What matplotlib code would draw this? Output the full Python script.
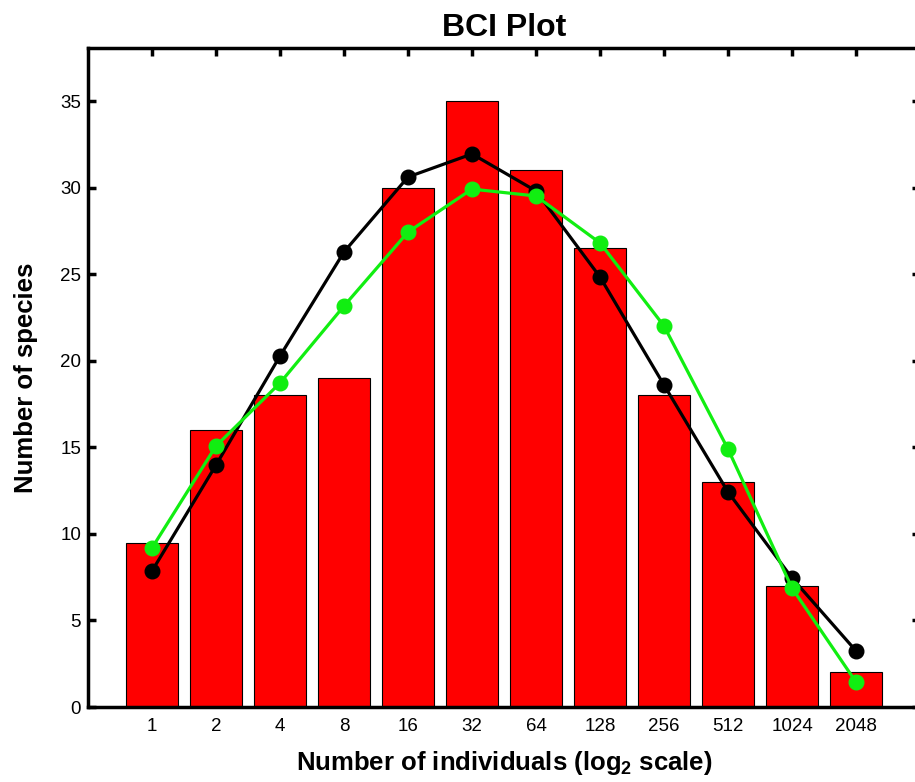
import matplotlib
matplotlib.use("Agg")
import matplotlib.pyplot as plt
import numpy as np

plt.rcParams['font.family'] = ['Liberation Sans', 'DejaVu Sans']
plt.rcParams['mathtext.fontset'] = 'custom'
plt.rcParams['mathtext.bf'] = 'Liberation Sans:bold'
plt.rcParams['mathtext.rm'] = 'Liberation Sans'
plt.rcParams['mathtext.default'] = 'bf'

# oktave (log2 klase) i broj vrsta
oktave = ['1', '2', '4', '8', '16', '32', '64', '128', '256', '512', '1024', '2048']
broj_vrsta = [9.5, 16, 18, 19, 30, 35, 31, 26.5, 18, 13, 7, 2]

# dve krive modela (crna i zelena)
crna_kriva = [7.86, 13.98, 20.28, 26.29, 30.62, 31.95, 29.81, 24.84, 18.60, 12.42, 7.45, 3.24]
zelena_kriva = [9.19, 15.08, 18.72, 23.17, 27.44, 29.92, 29.52, 26.81, 22.01, 14.90, 6.87, 1.44]

x = np.arange(1, len(oktave) + 1)

fig = plt.figure(figsize=(9.15, 7.82), dpi=100)
ax = fig.add_axes([0.0962, 0.0959, 0.9093, 0.8427])

ax.bar(x, broj_vrsta, width=0.8, color='#ff0000', edgecolor='black', linewidth=0.8, zorder=2)
ax.plot(x, crna_kriva, '-o', color='black', linewidth=2.3, markersize=10.5, zorder=3)
ax.plot(x, zelena_kriva, '-o', color='#11ee11', linewidth=2.3, markersize=10.5, zorder=4)

ax.set_xlim(0, 13)
ax.set_ylim(0, 38.07)
ax.set_xticks(x)
ax.set_xticklabels(oktave)
ax.set_yticks(range(0, 36, 5))

for s in ax.spines.values():
    s.set_linewidth(2.5)
ax.tick_params(axis='both', direction='in', length=6, width=2.5, labelsize=13.5, pad=5,
               top=True, right=True)
ax.tick_params(axis='x', bottom=False, pad=8)

ax.set_title('BCI Plot', fontsize=23, fontweight='bold', pad=9)
ax.set_xlabel(r'Number of individuals (log$_2$ scale)', fontsize=18.5, fontweight='bold',
              labelpad=10)
ax.set_ylabel('Number of species', fontsize=18.5, fontweight='bold', labelpad=16)

fig.savefig('out.png', dpi=100)
